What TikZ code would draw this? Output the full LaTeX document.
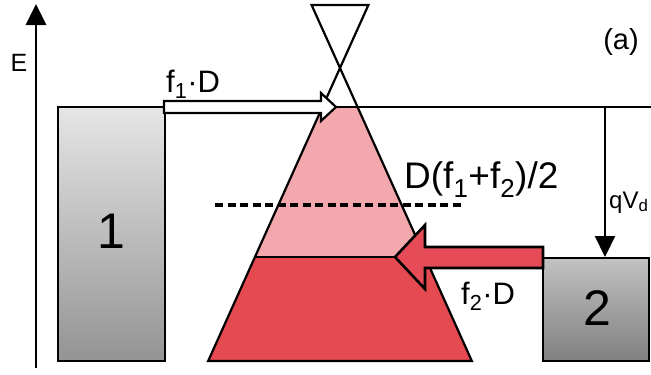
\documentclass[tikz,border=0pt]{standalone}
\usepackage{fontspec}
\setmainfont{Liberation Sans}
\usetikzlibrary{arrows.meta}
\definecolor{pinkL}{RGB}{242,168,172}
\definecolor{redF}{RGB}{228,74,80}
\definecolor{redA}{RGB}{230,76,88}
\newcommand{\fs}[1]{\fontsize{#1}{#1}\selectfont}
\begin{document}
\begin{tikzpicture}[x=1pt,y=-1pt,
  outl/.style={draw=black,line width=2.2pt},
  lbl/.style={inner sep=0pt,text=black}]
\useasboundingbox (0,0) rectangle (651,375);
% cone fills
\fill[pinkL] (322.45,107) -- (357.55,107) -- (425.05,257) -- (254.95,257) -- cycle;
\fill[redF] (254.95,257) -- (425.05,257) -- (471.85,361) -- (208.15,361) -- cycle;
% cone outlines
\coordinate (apex) at (340,68);
\draw[outl,line join=miter] (311.6,5) -- (368.4,5) -- (apex) -- cycle;
\draw[outl,line join=miter] (apex) -- (208.15,361) -- (471.85,361) -- cycle;
% boxes
\draw[outl,top color=black!10,bottom color=black!42] (58,107) rectangle (165,361);
\draw[outl,top color=black!24,bottom color=black!50] (543,258) rectangle (649,361);
\node[lbl,font=\fs{50}] (one) at (111,231) {1};
\node[lbl,font=\fs{50}] (two) at (597,308) {2};
% levels
\coordinate (b1tr) at (165,107);
\coordinate (rgt) at (651,107);
\draw[outl] (b1tr) -- (rgt);
\draw[outl] (254.95,257) -- (400,257);
% dashed average level
\draw[black,line width=4pt,dash pattern=on 8pt off 4.5pt] (215,205) -- (463,205);
% energy axis
\draw[black,line width=2.8pt,-{Triangle[length=21pt,width=20pt]}] (36,368) -- (36,4);
\node[lbl,font=\fs{25}] (E) at (19,63) {E};
% qVd arrow
\draw[black,line width=2.2pt,-{Triangle[length=21pt,width=20pt]}] (605,107) -- (605,257);
\node[lbl,font=\fs{24},anchor=base west] (qv) at (609,208) {qV\textsubscript{d}};
% f1 D arrow (white)
\draw[outl,fill=white,line join=miter] (164,101) -- (321,101) -- (321,93) -- (336,107) -- (321,121) -- (321,113) -- (164,113) -- cycle;
\node[lbl,font=\fs{31},anchor=base west] (f1) at (166,92) {f\textsubscript{1}·D};
% f2 D arrow (red)
\draw[line width=2.6pt,draw=black,fill=redA,line join=miter] (395,257) -- (425,225) -- (425,247) -- (543,247) -- (543,268) -- (425,268) -- (425,289) -- cycle;
\node[lbl,font=\fs{31},anchor=base west] (f2) at (461,304) {f\textsubscript{2}·D};
% average label
\node[lbl,font=\fs{37},anchor=base west] (avg) at (404,188) {D(f\textsubscript{1}+f\textsubscript{2})/2};
\node[lbl,font=\fs{29}] (a) at (621,42) {(a)};
\end{tikzpicture}
\end{document}
